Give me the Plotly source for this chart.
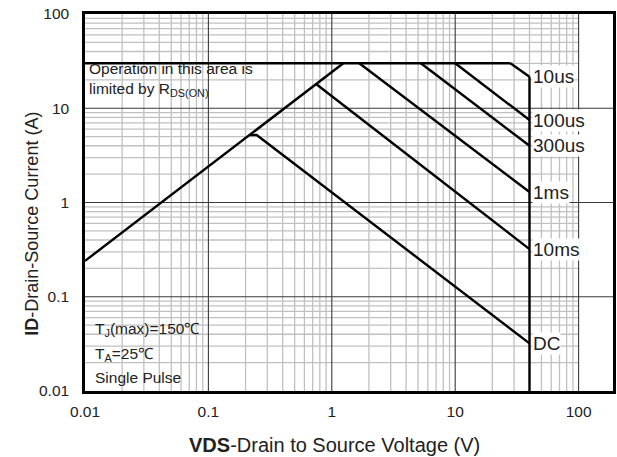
import math
import plotly.graph_objects as go

FONT = "Liberation Sans, Arial, sans-serif"
TXT = "#222222"

# ---- axis ticks ----
vds_ticks = [0.01, 0.1, 1, 10, 100]
vds_tick_labels = ["0.01", "0.1", "1", "10", "100"]
id_ticks = [0.01, 0.1, 1, 10, 100]
id_tick_labels = ["0.01", "0.1", "1", "10", "100"]
vds_max = 190.0

# ---- SOA boundary data ----
rds_v = [0.01, 1.24]
rds_i = [0.24, 30]
cap_v = [0.01, 28]
cap_i = [30, 30]
bv_v = [40, 40]
bv_i = [21.6, 0.01]

curve_names = ["10us", "100us", "300us", "1ms", "10ms", "DC"]
curve_v = [
    [28, 40],
    [10, 40],
    [5.27, 40],
    [1.67, 40],
    [0.75, 40],
    [0.217, 0.246, 40],
]
curve_i = [
    [30, 21.6],
    [30, 7.5],
    [30, 4.0],
    [30, 1.29],
    [18, 0.32],
    [5.2, 5.2, 0.032],
]

fig = go.Figure()

# ---- grid lines ----
minor_vx, minor_vy = [], []
minor_hx, minor_hy = [], []
for d in range(-2, 2):
    for k in range(2, 10):
        v = k * 10 ** d
        minor_vx += [v, v, None]
        minor_vy += [0.01, 100, None]
        minor_hx += [0.01, 100, None]
        minor_hy += [v, v, None]
fig.add_trace(go.Scatter(x=minor_vx + minor_hx, y=minor_vy + minor_hy, mode="lines",
                         line=dict(color="#c0c0c0", width=1.3), hoverinfo="skip",
                         showlegend=False))
major_x, major_y = [], []
for v in [0.1, 1, 10, 100]:
    major_x += [v, v, None]
    major_y += [0.01, 100, None]
for v in [0.1, 1, 10]:
    major_x += [0.01, vds_max, None]
    major_y += [v, v, None]
fig.add_trace(go.Scatter(x=major_x, y=major_y, mode="lines",
                         line=dict(color="#3a3a3a", width=1.1), hoverinfo="skip",
                         showlegend=False))

# ---- boundary lines ----
line_style = dict(color="black", width=2.4)
for xs, ys in [(rds_v, rds_i), (cap_v, cap_i), (bv_v, bv_i)]:
    fig.add_trace(go.Scatter(x=xs, y=ys, mode="lines", line=line_style,
                             showlegend=False, hoverinfo="skip"))
for name, xs, ys in zip(curve_names, curve_v, curve_i):
    fig.add_trace(go.Scatter(x=xs, y=ys, mode="lines", line=line_style,
                             name=name, showlegend=False))
    fig.add_annotation(x=math.log10(xs[-1]), y=math.log10(ys[-1]), xref="x", yref="y",
                       text=name, showarrow=False, xanchor="left", yanchor="middle",
                       xshift=2, bgcolor="white", borderpad=0,
                       font=dict(family=FONT, size=19, color=TXT))

# ---- text annotations ----
fig.add_annotation(xref="paper", yref="paper", x=0.003, y=0.825,
                   text="Operation in this area is<br>limited by R<sub>DS(ON)</sub>",
                   showarrow=False, xanchor="left", yanchor="middle", align="left",
                   font=dict(family=FONT, size=15.5, color=TXT))
for txt, yp in [("T<sub>J</sub>(max)=150℃", 0.162),
                ("T<sub>A</sub>=25℃", 0.0955),
                ("Single Pulse", 0.0345)]:
    fig.add_annotation(xref="paper", yref="paper", x=0.015, y=yp, text=txt,
                       showarrow=False, xanchor="left", yanchor="middle",
                       font=dict(family=FONT, size=15.5, color=TXT))

fig.add_annotation(xref="paper", yref="paper", x=0.473, y=-0.143,
                   text="<b>VDS</b>-Drain to Source Voltage (V)", showarrow=False,
                   xanchor="center", yanchor="middle",
                   font=dict(family=FONT, size=20, color=TXT))
fig.add_annotation(xref="paper", yref="paper", x=-0.101, y=0.443,
                   text="<b>ID</b>-Drain-Source Current (A)", showarrow=False,
                   textangle=-90, xanchor="center", yanchor="middle",
                   font=dict(family=FONT, size=18, color=TXT))

fig.update_xaxes(type="log", range=[-2, math.log10(vds_max)], showgrid=False,
                 zeroline=False, showline=True, mirror=True, linecolor="black",
                 linewidth=2.5, tickvals=vds_ticks, ticktext=vds_tick_labels,
                 ticks="", ticklabelstandoff=5, automargin=False,
                 ticklabeloverflow="allow",
                 tickfont=dict(family=FONT, size=15.5, color=TXT))
fig.update_yaxes(type="log", range=[-2, 2], showgrid=False,
                 zeroline=False, showline=True, mirror=True, linecolor="black",
                 linewidth=2.5, tickvals=id_ticks, ticktext=id_tick_labels,
                 ticks="", ticklabelstandoff=10, automargin=False,
                 ticklabeloverflow="allow",
                 tickfont=dict(family=FONT, size=15.5, color=TXT))

fig.update_layout(width=617, height=457, margin=dict(l=85, r=4, t=14, b=66, autoexpand=False),
                  plot_bgcolor="white", paper_bgcolor="white", showlegend=False,
                  hovermode=False)

# remove the default 8px page margin so the figure sits at the window origin
fig.write_html("out.html", config={"displayModeBar": False},
               post_script="document.body.style.margin='0';document.body.style.overflow='hidden';")
